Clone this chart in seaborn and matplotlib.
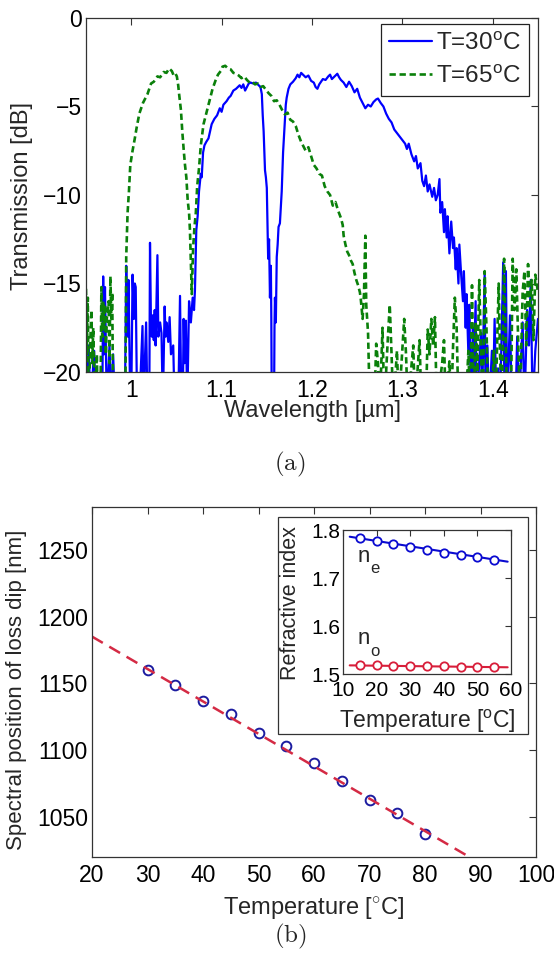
import numpy as np
import pandas as pd
import matplotlib
matplotlib.use("Agg")
import matplotlib.pyplot as plt
import seaborn as sns
from matplotlib.patches import Rectangle
from matplotlib.lines import Line2D

# ---------------- data: panel (a) transmission spectra ----------------
# (wavelength [um], transmission [dB]); values below -20 are off-scale
t30_points = [
    (0.950, -22), (0.953, -18.5), (0.955, -22), (0.959, -18.8), (0.961, -22), (0.968, -22),
    (0.969, -14.6), (0.970, -19), (0.971, -15.2), (0.973, -22), (0.976, -18.5), (0.978, -22),
    (0.980, -19.0), (0.982, -22), (0.993, -22), (0.9945, -14.0), (0.996, -18), (0.997, -14.8),
    (0.999, -22), (1.000, -22), (1.0015, -14.5), (1.003, -17), (1.004, -15.0), (1.005, -15.2),
    (1.0065, -22), (1.009, -22), (1.0125, -17.4), (1.0135, -22), (1.0165, -17.2), (1.018, -22),
    (1.020, -22), (1.0208, -12.7), (1.0218, -17), (1.0228, -18), (1.0238, -16.8), (1.025, -18.2),
    (1.026, -16.5), (1.027, -18.5), (1.029, -13.4), (1.030, -18), (1.032, -17.2), (1.0335, -17.8),
    (1.035, -22), (1.037, -16.3), (1.038, -18), (1.039, -17.2), (1.041, -18.3), (1.0425, -16.9),
    (1.044, -19), (1.0465, -18.5), (1.048, -22), (1.052, -22), (1.054, -15.7), (1.0555, -22),
    (1.057, -22), (1.058, -17.0), (1.059, -19.5), (1.0605, -17.1), (1.062, -22), (1.064, -16.0),
    (1.066, -17.2), (1.068, -15.8), (1.0695, -16.5), (1.0705, -15.4), (1.072, -12.0), (1.0735, -11.2),
    (1.075, -9.8), (1.077, -8.8), (1.078, -9.0), (1.0795, -7.6), (1.081, -7.2), (1.083, -7.0),
    (1.0855, -6.8), (1.089, -6.0), (1.092, -5.7), (1.095, -5.5), (1.098, -5.1), (1.100, -5.3),
    (1.102, -4.9), (1.1055, -4.7), (1.108, -4.5), (1.110, -4.4), (1.113, -4.1), (1.116, -4.0),
    (1.118, -3.9), (1.120, -3.8), (1.122, -3.95), (1.124, -3.75), (1.126, -4.1), (1.128, -3.9),
    (1.130, -3.7), (1.132, -3.65), (1.135, -3.7), (1.138, -3.65), (1.141, -3.8), (1.143, -3.9),
    (1.1445, -4.3), (1.1455, -5.5), (1.1465, -6.4), (1.148, -8.6), (1.149, -9.0), (1.150, -9.6),
    (1.1505, -11.0), (1.1515, -13.6), (1.1525, -12.5), (1.1535, -15.8), (1.1545, -14.0), (1.155, -17.0),
    (1.1555, -22), (1.158, -22), (1.1585, -17.5), (1.159, -15.8), (1.160, -17.2), (1.161, -13.5),
    (1.162, -12.8), (1.163, -11.8), (1.1645, -11.6), (1.1665, -9.8), (1.168, -7.6), (1.170, -5.8),
    (1.171, -4.9), (1.172, -4.5), (1.174, -4.0), (1.176, -3.75), (1.179, -3.6), (1.182, -3.4),
    (1.184, -3.2), (1.186, -3.35), (1.188, -3.1), (1.190, -3.2), (1.193, -3.35), (1.196, -3.25),
    (1.199, -3.55), (1.202, -3.65), (1.204, -3.9), (1.206, -4.0), (1.208, -3.75), (1.210, -3.6),
    (1.212, -3.45), (1.215, -3.5), (1.218, -3.3), (1.220, -3.2), (1.222, -3.45), (1.225, -3.3),
    (1.228, -3.15), (1.230, -3.35), (1.232, -3.5), (1.235, -3.65), (1.238, -3.9), (1.241, -3.6),
    (1.244, -3.85), (1.247, -4.2), (1.250, -4.0), (1.253, -4.5), (1.256, -4.8), (1.259, -5.1),
    (1.262, -4.9), (1.265, -5.0), (1.268, -4.75), (1.271, -4.6), (1.273, -4.55), (1.276, -4.8),
    (1.279, -5.0), (1.282, -5.4), (1.285, -5.7), (1.288, -5.9), (1.291, -6.3), (1.294, -6.5),
    (1.297, -6.7), (1.300, -6.9), (1.303, -7.1), (1.305, -7.4), (1.307, -7.1), (1.310, -7.7),
    (1.313, -8.1), (1.315, -7.8), (1.317, -8.5), (1.320, -8.2), (1.322, -9.2), (1.324, -9.5),
    (1.326, -8.9), (1.328, -9.8), (1.330, -9.4), (1.333, -10.1), (1.335, -9.6), (1.337, -10.3),
    (1.339, -10.0), (1.341, -9.1), (1.342, -11.0), (1.344, -10.4), (1.346, -12.1), (1.347, -10.8),
    (1.349, -12.4), (1.350, -11.2), (1.352, -13.3), (1.354, -11.5), (1.356, -13.0), (1.357, -12.4),
    (1.359, -14.2), (1.360, -13.0), (1.362, -15.0), (1.363, -12.8), (1.365, -14.5), (1.367, -16.0),
    (1.368, -14.3), (1.370, -17.5), (1.371, -15.6), (1.373, -19.0), (1.374, -16.2), (1.376, -22),
    (1.378, -17.5), (1.379, -20), (1.381, -16.0), (1.382, -22), (1.385, -19.5), (1.387, -17.8),
    (1.388, -22), (1.391, -14.5), (1.392, -22), (1.394, -18.5), (1.396, -22), (1.399, -18.8),
    (1.400, -22), (1.402, -17.0), (1.404, -22), (1.406, -19.8), (1.408, -22), (1.4115, -13.8),
    (1.413, -22), (1.4145, -14.3), (1.416, -22), (1.419, -16.8), (1.421, -22), (1.425, -22),
    (1.427, -18), (1.429, -22), (1.433, -17.2), (1.435, -22), (1.438, -16.5), (1.440, -18.5),
    (1.442, -14.8), (1.444, -22), (1.447, -18.8), (1.450, -17.0),
]

t65_points = [
    (0.950, -15.3), (0.951, -19), (0.952, -15.8), (0.953, -22), (0.955, -18.0), (0.956, -16.5),
    (0.957, -19.5), (0.958, -17.5), (0.960, -22), (0.962, -19.0), (0.963, -22), (0.966, -22),
    (0.967, -15.2), (0.968, -18), (0.969, -16.0), (0.970, -17.5), (0.971, -16.2), (0.972, -19.0),
    (0.973, -17.0), (0.975, -16.0), (0.976, -19.5), (0.977, -14.6), (0.978, -17), (0.979, -15.5),
    (0.980, -22), (0.9935, -22), (0.9945, -13.5), (0.996, -11.0), (0.9975, -9.8), (0.999, -8.3),
    (1.0015, -7.5), (1.004, -6.8), (1.006, -6.2), (1.009, -5.4), (1.013, -4.8), (1.018, -4.3),
    (1.022, -3.7), (1.025, -3.6), (1.029, -3.3), (1.032, -3.35), (1.036, -3.05), (1.039, -3.1),
    (1.042, -2.85), (1.045, -3.0), (1.047, -3.25), (1.049, -3.15), (1.0505, -3.3), (1.052, -3.8),
    (1.053, -4.3), (1.055, -5.2), (1.0565, -6.4), (1.058, -7.4), (1.0595, -8.3), (1.061, -9.0),
    (1.0625, -10.3), (1.064, -11.0), (1.065, -12.0), (1.066, -13.8), (1.067, -15.6), (1.0685, -13.0),
    (1.070, -11.8), (1.0715, -11.0), (1.073, -9.5), (1.075, -8.5), (1.077, -7.2), (1.080, -6.0),
    (1.0835, -5.3), (1.087, -4.6), (1.090, -4.0), (1.0935, -3.5), (1.096, -3.2), (1.099, -3.0),
    (1.101, -2.75), (1.104, -2.7), (1.107, -2.85), (1.110, -2.9), (1.113, -3.1), (1.116, -3.15),
    (1.119, -3.25), (1.122, -3.4), (1.125, -3.3), (1.128, -3.5), (1.131, -3.65), (1.134, -3.6),
    (1.137, -3.75), (1.140, -3.7), (1.143, -3.9), (1.146, -3.85), (1.149, -4.05), (1.152, -4.25),
    (1.155, -4.4), (1.158, -4.7), (1.161, -4.65), (1.164, -4.9), (1.167, -5.2), (1.170, -5.45),
    (1.173, -5.35), (1.176, -5.75), (1.179, -5.85), (1.182, -6.1), (1.185, -6.6), (1.188, -7.0),
    (1.190, -7.2), (1.193, -7.5), (1.196, -7.3), (1.199, -7.8), (1.202, -8.3), (1.205, -8.5),
    (1.208, -8.8), (1.211, -8.9), (1.214, -9.5), (1.217, -9.8), (1.220, -10.0), (1.223, -10.6),
    (1.226, -10.4), (1.229, -10.9), (1.232, -11.3), (1.234, -11.7), (1.235, -12.3), (1.237, -12.8),
    (1.239, -13.2), (1.241, -13.4), (1.243, -13.7), (1.245, -13.9), (1.247, -14.4), (1.249, -14.8),
    (1.251, -15.1), (1.253, -15.5), (1.254, -15.9), (1.256, -17.0), (1.2575, -15.6), (1.259, -12.3),
    (1.260, -16.2), (1.262, -17.8), (1.264, -22), (1.269, -22), (1.271, -18.4), (1.273, -19.5),
    (1.275, -22), (1.278, -17.5), (1.280, -22), (1.284, -18.0), (1.286, -16.2), (1.288, -19.0),
    (1.290, -22), (1.294, -18.8), (1.296, -22), (1.302, -17.0), (1.304, -19), (1.306, -22),
    (1.312, -18.5), (1.314, -22), (1.319, -18.2), (1.321, -22), (1.326, -22), (1.328, -17.6),
    (1.330, -19), (1.332, -17.0), (1.334, -18.5), (1.336, -16.9), (1.338, -22), (1.344, -19.5),
    (1.346, -18.2), (1.348, -22), (1.352, -19.4), (1.354, -22), (1.356, -18.6), (1.358, -15.8),
    (1.360, -17.5), (1.362, -22), (1.370, -22), (1.373, -18.8), (1.375, -22), (1.377, -15.1),
    (1.379, -22), (1.381, -17.2), (1.383, -20), (1.385, -14.8), (1.387, -19.0), (1.389, -22),
    (1.391, -14.3), (1.393, -17.5), (1.395, -22), (1.399, -22), (1.401, -18.8), (1.403, -22),
    (1.4065, -15.0), (1.408, -19), (1.410, -22), (1.4125, -13.6), (1.414, -17.5), (1.416, -22),
    (1.420, -22), (1.422, -13.6), (1.424, -16.5), (1.426, -14.2), (1.428, -18), (1.430, -22),
    (1.433, -15.5), (1.435, -14.3), (1.437, -18.5), (1.439, -13.9), (1.441, -16.4), (1.443, -14.8),
    (1.445, -18.2), (1.447, -14.5), (1.450, -15.5),
]

wl30, tr30 = map(list, zip(*t30_points))
wl65, tr65 = map(list, zip(*t65_points))
series_labels = ["T=30$^{\\mathrm{o}}$C", "T=65$^{\\mathrm{o}}$C"]
a_xticks = [1.0, 1.1, 1.2, 1.3, 1.4]
a_xticklabels = ["1", "1.1", "1.2", "1.3", "1.4"]
a_yticks = [0, -5, -10, -15, -20]

# ---------------- data: panel (b) loss dip position ----------------
dip_temp = [30, 35, 40, 45, 50, 55, 60, 65, 70, 75, 80]
dip_pos = [1160, 1149, 1137, 1127, 1113, 1103, 1090, 1077, 1063, 1053, 1037]
fit_temp = [20, 88]
fit_pos = [1185, 1020]
b_xticks = [20, 30, 40, 50, 60, 70, 80, 90, 100]
b_yticks = [1050, 1100, 1150, 1200, 1250]

# inset: refractive indices
ri_temp = [15, 20, 25, 30, 35, 40, 45, 50, 55]
n_e = [1.783, 1.778, 1.771, 1.765, 1.759, 1.752, 1.748, 1.743, 1.738]
n_o = [1.518, 1.518, 1.517, 1.517, 1.516, 1.516, 1.515, 1.514, 1.514]
ri_fit_temp = [12, 59]
n_e_fit = [1.786, 1.734]
n_o_fit = [1.518, 1.514]
in_xticks = [10, 20, 30, 40, 50, 60]
in_yticks = [1.5, 1.6, 1.7, 1.8]

# ---------------- style ----------------
sns.set_theme(style="white")
plt.rcParams["font.family"] = ["Liberation Sans", "DejaVu Sans"]
plt.rcParams["mathtext.fontset"] = "custom"
plt.rcParams["mathtext.rm"] = "Liberation Sans"
plt.rcParams["mathtext.it"] = "Liberation Sans:italic"
plt.rcParams["axes.edgecolor"] = "#333333"
plt.rcParams["axes.linewidth"] = 0.9

W, H = 554, 961
fig = plt.figure(figsize=(W / 100, H / 100), dpi=100)
fig.patch.set_facecolor("white")

TICK = 16.5
LAB = 17


def box(l, r, t, b):
    return [l / W, 1 - b / H, (r - l) / W, (b - t) / H]


def style_ticks(ax, size, pad):
    ax.tick_params(axis="both", which="both", direction="in", top=True, right=True,
                   length=5, width=0.8, color="#333333", labelsize=size, pad=pad,
                   labelcolor="black")


# ---------------- panel (a) ----------------
ax1 = fig.add_axes(box(86, 538, 18, 372))
sns.lineplot(x=wl30, y=tr30, ax=ax1, sort=False, estimator=None, color="#0000ff", lw=1.6)
sns.lineplot(x=wl65, y=tr65, ax=ax1, sort=False, estimator=None, color="#0a800a", lw=1.9,
             linestyle=(0, (2.4, 1.4)))
ax1.set_xlim(0.95, 1.45)
ax1.set_ylim(-20, 0)
ax1.set_xticks(a_xticks)
ax1.set_xticklabels(a_xticklabels)
ax1.set_yticks(a_yticks)
ax1.set_xlabel("")
ax1.set_ylabel("")
style_ticks(ax1, TICK, 3)
ax1.tick_params(axis="x", pad=5)
handles = [Line2D([], [], color="#0000ff", lw=1.6),
           Line2D([], [], color="#0a800a", lw=1.9, linestyle=(0, (2.4, 1.4)))]
leg = ax1.legend(handles, series_labels, loc="upper right", bbox_to_anchor=(0.98, 0.983),
                 borderaxespad=0, fontsize=17.5, frameon=True, fancybox=False,
                 edgecolor="#222222", framealpha=1, handlelength=1.75, handletextpad=0.15,
                 borderpad=0.35, labelspacing=0.45)
leg.get_frame().set_linewidth(0.9)

fig.text(22 / W, 1 - 196 / H, "Transmission [dB]", rotation=90, ha="center", va="center",
         fontsize=LAB)
fig.text(312 / W, 1 - 411 / H, "Wavelength [\u00b5m]", ha="center", va="center", fontsize=LAB)
fig.text(290 / W, 1 - 464 / H, r"$\mathrm{(a)}$", ha="center", va="center", fontsize=18,
         math_fontfamily="cm")

# ---------------- panel (b) ----------------
ax2 = fig.add_axes(box(92, 536, 507, 857))
sns.lineplot(x=dip_temp, y=dip_pos, ax=ax2, sort=False, estimator=None, linestyle="",
             marker="o", markersize=7, markerfacecolor="none", markeredgecolor="#1c1ca0",
             markeredgewidth=1.4)
sns.lineplot(x=fit_temp, y=fit_pos, ax=ax2, sort=False, estimator=None, color="#d42a44",
             lw=1.8, linestyle=(0, (5, 3)))
ax2.set_xlim(20, 100)
ax2.set_ylim(1020, 1282)
ax2.set_xticks(b_xticks)
ax2.set_yticks(b_yticks)
ax2.set_xlabel("")
ax2.set_ylabel("")
style_ticks(ax2, TICK, 3)
ax2.tick_params(axis="x", pad=5)

fig.text(17 / W, 1 - 690 / H, "Spectral position of loss dip [nm]", rotation=90,
         ha="center", va="center", fontsize=16)
fig.text(314 / W, 1 - 908 / H, "Temperature [$^{\\circ}$C]", ha="center", va="center",
         fontsize=LAB)
fig.text(290 / W, 1 - 936 / H, r"$\mathrm{(b)}$", ha="center", va="center", fontsize=18,
         math_fontfamily="cm")

# inset frame
frame = Rectangle((278 / W, 1 - 734 / H), (528 - 278) / W, (734 - 517) / H,
                  transform=fig.transFigure, facecolor="white", edgecolor="#333333",
                  lw=0.9, zorder=3)
fig.patches.append(frame)

ax3 = fig.add_axes(box(343, 511, 530, 674))
ax3.set_zorder(5)
sns.lineplot(x=ri_fit_temp, y=n_e_fit, ax=ax3, sort=False, estimator=None, color="#0a0ad0",
             lw=1.5)
sns.lineplot(x=ri_fit_temp, y=n_o_fit, ax=ax3, sort=False, estimator=None, color="#d81e3a",
             lw=1.5)
sns.lineplot(x=ri_temp, y=n_e, ax=ax3, sort=False, estimator=None, linestyle="", marker="o",
             markersize=6, markerfacecolor="white", markeredgecolor="#0a0ad0",
             markeredgewidth=1.3)
sns.lineplot(x=ri_temp, y=n_o, ax=ax3, sort=False, estimator=None, linestyle="", marker="o",
             markersize=6, markerfacecolor="white", markeredgecolor="#d81e3a",
             markeredgewidth=1.3)
ax3.set_xlim(10, 60)
ax3.set_ylim(1.5, 1.8)
ax3.set_xticks(in_xticks)
ax3.set_yticks(in_yticks)
ax3.set_xlabel("")
ax3.set_ylabel("")
style_ticks(ax3, 15, 2)
ax3.tick_params(axis="x", pad=5)
ax3.tick_params(length=4)
ax3.text(16.3, 1.745, "n", ha="center", va="center", fontsize=16)
ax3.text(19.4, 1.719, "e", ha="center", va="center", fontsize=12)
ax3.text(16.3, 1.574, "n", ha="center", va="center", fontsize=16)
ax3.text(19.4, 1.547, "o", ha="center", va="center", fontsize=12)

fig.text(290 / W, 1 - 603 / H, "Refractive index", rotation=90, ha="center", va="center",
         fontsize=15.5, zorder=6)
fig.text(427 / W, 1 - 721 / H, "Temperature [$^{\\mathrm{o}}$C]", ha="center", va="center",
         fontsize=16.5, zorder=6)

fig.savefig("out.png", dpi=100, facecolor="white")
